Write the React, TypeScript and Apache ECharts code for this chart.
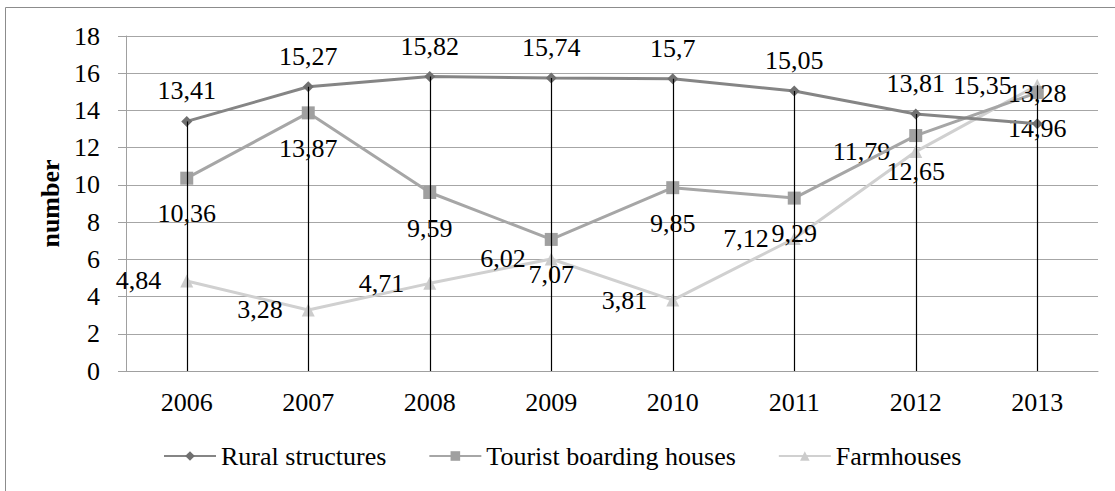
import React, { useEffect, useRef } from "react";
import * as echarts from "echarts";

const categories = ["2006", "2007", "2008", "2009", "2010", "2011", "2012", "2013"];
const ruralStructures = [13.41, 15.27, 15.82, 15.74, 15.7, 15.05, 13.81, 13.28];
const touristBoardingHouses = [10.36, 13.87, 9.59, 7.07, 9.85, 9.29, 12.65, 14.96];
const farmhouses = [4.84, 3.28, 4.71, 6.02, 3.81, 7.12, 11.79, 15.35];
const seriesNames = ["Rural structures", "Tourist boarding houses", "Farmhouses"];

const FONT = "'Liberation Serif', 'Times New Roman', serif";
const fmt = (v: number) => String(v).replace(".", ",");

export default function App() {
  const ref = useRef<HTMLDivElement>(null);
  useEffect(() => {
    if (!ref.current) return;
    const chart = echarts.init(ref.current, undefined, { renderer: "svg" });
    const dropTops = categories.map((_, i) =>
      Math.max(ruralStructures[i], touristBoardingHouses[i], farmhouses[i])
    );
    const labelBase = {
      show: true,
      fontFamily: FONT,
      fontSize: 26,
      color: "#000",
      formatter: (p: any) => fmt(p.value),
    };
    chart.setOption({
      animation: false,
      backgroundColor: "#fff",
      textStyle: { fontFamily: FONT },
      graphic: [
        {
          type: "rect",
          shape: { x: 5.5, y: 7.5, width: 1130, height: 520 },
          style: { fill: "none", stroke: "#8c8c8c", lineWidth: 1 },
          silent: true,
          z: -10,
        },
      ],
      grid: { left: 126, right: 17, top: 36, bottom: 120, containLabel: false },
      legend: {
        left: 158,
        top: 438,
        itemWidth: 52,
        itemHeight: 12,
        itemGap: 42,
        textStyle: { fontFamily: FONT, fontSize: 26, color: "#000" },
        data: seriesNames,
      },
      xAxis: {
        type: "category",
        data: categories,
        boundaryGap: true,
        axisLine: { lineStyle: { color: "#a0a0a0", width: 1 } },
        axisTick: { show: false },
        axisLabel: { fontFamily: FONT, fontSize: 26, color: "#000", margin: 18 },
      },
      yAxis: {
        type: "value",
        min: 0,
        max: 18,
        interval: 2,
        name: "number",
        nameLocation: "middle",
        nameGap: 60,
        nameRotate: 90,
        nameTextStyle: { fontFamily: FONT, fontSize: 26, fontWeight: "bold", color: "#000" },
        axisLine: { show: true, lineStyle: { color: "#a0a0a0", width: 1 } },
        axisTick: { show: true, length: 8, lineStyle: { color: "#a0a0a0" } },
        axisLabel: { fontFamily: FONT, fontSize: 26, color: "#000", margin: 26 },
        splitLine: { lineStyle: { color: "#a6a6a6", width: 1 } },
      },
      series: [
        {
          name: seriesNames[0],
          type: "line",
          data: ruralStructures,
          symbol: "diamond",
          symbolSize: 11,
          lineStyle: { color: "#858585", width: 3 },
          itemStyle: { color: "#707070" },
          label: { ...labelBase, position: "top", distance: 12 },
          z: 4,
        },
        {
          name: seriesNames[1],
          type: "line",
          data: touristBoardingHouses,
          symbol: "rect",
          symbolSize: 13,
          lineStyle: { color: "#a6a6a6", width: 3 },
          itemStyle: { color: "#a0a0a0" },
          label: { ...labelBase, position: "bottom", distance: 16 },
          z: 3,
        },
        {
          name: seriesNames[2],
          type: "line",
          data: farmhouses,
          symbol: "triangle",
          symbolSize: 13,
          lineStyle: { color: "#d0d0d0", width: 3 },
          itemStyle: { color: "#cccccc" },
          label: { ...labelBase, position: "left", distance: 19 },
          z: 2,
        },
        {
          name: "drop",
          type: "custom",
          data: dropTops.map((v, i) => [i, v]),
          z: 10,
          silent: true,
          renderItem: (params: any, api: any) => {
            const top = api.coord([api.value(0), api.value(1)]);
            const bottom = api.coord([api.value(0), 0]);
            const x = Math.round(top[0]) + 0.5;
            return {
              type: "line",
              shape: { x1: x, y1: top[1], x2: x, y2: bottom[1] },
              style: { stroke: "#000", lineWidth: 1.2 },
            };
          },
        },
      ],
    });
    return () => chart.dispose();
  }, []);
  return (
    <div
      ref={ref}
      style={{ position: "fixed", left: 0, top: 0, width: 1115, height: 491 }}
    />
  );
}
